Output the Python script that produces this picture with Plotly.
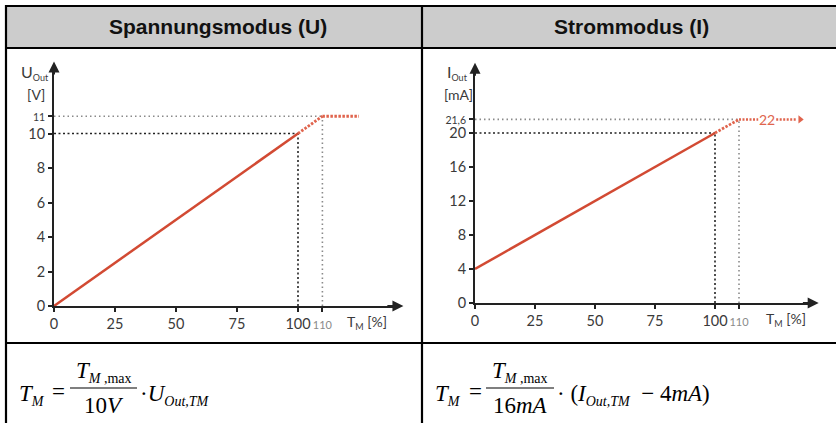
import plotly.graph_objects as go

W, H = 836, 423

# ---------------- data ----------------
tm_ticks = [0, 25, 50, 75, 100, 110]
tm_labels = ["0", "25", "50", "75", "100", "110"]

u_ticks = [0, 2, 4, 6, 8, 10, 11]
u_labels = ["0", "2", "4", "6", "8", "10", "11"]

i_ticks = [0, 4, 8, 12, 16, 20, 21.6]
i_labels = ["0", "4", "8", "12", "16", "20", "21,6"]

u_line_x = [0, 100]
u_line_y = [0, 10]
u_over_x = [100, 110]
u_over_y = [10, 11]
u_sat_x = [110, 125]
u_sat_y = [11, 11]

i_line_x = [0, 100]
i_line_y = [4, 20]
i_over_x = [100, 110]
i_over_y = [20, 21.6]
i_sat_x1 = [110, 118]
i_sat_x2 = [125.5, 134]
i_sat_y = [21.6, 21.6]
i_sat_label = "22"
i_sat_label_x = 121.7
i_arrow_x = 135.5

headers = ["Spannungsmodus (U)", "Strommodus (I)"]

# ---------------- helpers ----------------
def P(x):
    return x / W

def Q(y):
    return 1 - y / H

RED = "#d24a33"
RED_L = "#e0644d"
DARK = "#222222"
GRAY = "#8a8a8a"
TICK_FONT = dict(family="Lato, sans-serif", size=14.5, color="#3a3a3a")
SERIF = "Liberation Serif, Times New Roman, serif"


def fmt_ticks(labels, small):
    out = []
    for lab in labels:
        if lab in small:
            out.append(f'<span style="{small[lab]}">{lab}</span>')
        else:
            out.append(lab)
    return out


fig = go.Figure()

# panel geometry (pixel origin, px per unit, range end)
L = dict(ox=54, oy=306, sx=2.44, sy=17.25, xr=140, yr=13.8)
R = dict(ox=475, oy=303, sx=2.4, sy=8.5, xr=140, yr=27.5)


def dom(g):
    xd = [P(g["ox"]), P(g["ox"] + g["xr"] * g["sx"])]
    yd = [Q(g["oy"]), Q(g["oy"] - g["yr"] * g["sy"])]
    return xd, yd


def ref_line(x, y, color, xa, ya, dash):
    fig.add_trace(go.Scatter(x=x, y=y, mode="lines", xaxis=xa, yaxis=ya,
                             line=dict(color=color, width=1.6, dash=dash),
                             hoverinfo="skip", showlegend=False))


# ---- left panel traces ----
ref_line([0, u_line_x[1]], [u_line_y[1]] * 2, DARK, "x", "y", "2px,2.5px")
ref_line([u_line_x[1]] * 2, [0, u_line_y[1]], DARK, "x", "y", "2px,2.5px")
ref_line([0, u_over_x[1]], [u_over_y[1]] * 2, GRAY, "x", "y", "1.5px,3px")
ref_line([u_over_x[1]] * 2, [0, u_over_y[1]], GRAY, "x", "y", "1.5px,3px")
fig.add_trace(go.Scatter(x=u_line_x, y=u_line_y, mode="lines", xaxis="x", yaxis="y",
                         line=dict(color=RED, width=2.5), showlegend=False))
fig.add_trace(go.Scatter(x=u_over_x, y=u_over_y, mode="lines", xaxis="x", yaxis="y",
                         line=dict(color=RED_L, width=2.8, dash="2.5px,1.5px"), showlegend=False))
fig.add_trace(go.Scatter(x=u_sat_x, y=u_sat_y, mode="lines", xaxis="x", yaxis="y",
                         line=dict(color=RED_L, width=3, dash="2.5px,1.5px"), showlegend=False))

# ---- right panel traces ----
ref_line([0, i_line_x[1]], [i_line_y[1]] * 2, DARK, "x2", "y2", "2px,2.5px")
ref_line([i_line_x[1]] * 2, [0, i_line_y[1]], DARK, "x2", "y2", "2px,2.5px")
ref_line([0, i_over_x[1]], [i_over_y[1]] * 2, GRAY, "x2", "y2", "1.5px,3px")
ref_line([i_over_x[1]] * 2, [0, i_over_y[1]], GRAY, "x2", "y2", "1.5px,3px")
fig.add_trace(go.Scatter(x=i_line_x, y=i_line_y, mode="lines", xaxis="x2", yaxis="y2",
                         line=dict(color=RED, width=2.5), showlegend=False))
fig.add_trace(go.Scatter(x=i_over_x, y=i_over_y, mode="lines", xaxis="x2", yaxis="y2",
                         line=dict(color=RED_L, width=2.8, dash="2.5px,1.5px"), showlegend=False))
fig.add_trace(go.Scatter(x=i_sat_x1, y=i_sat_y, mode="lines", xaxis="x2", yaxis="y2",
                         line=dict(color=RED_L, width=2.5, dash="2px,1.5px"), showlegend=False))
fig.add_trace(go.Scatter(x=i_sat_x2, y=i_sat_y, mode="lines", xaxis="x2", yaxis="y2",
                         line=dict(color=RED_L, width=2.5, dash="2px,1.5px"), showlegend=False))
fig.add_trace(go.Scatter(x=[i_arrow_x], y=[i_sat_y[0]], mode="markers", xaxis="x2", yaxis="y2",
                         marker=dict(symbol="triangle-right", size=7, color=RED_L),
                         cliponaxis=False, showlegend=False))

# ---- axes ----
axis_common = dict(showline=True, linecolor=DARK, linewidth=2, ticks="outside", ticklen=4,
                   tickwidth=1.5, tickcolor=DARK, showgrid=False, zeroline=False,
                   tickfont=TICK_FONT, fixedrange=True, automargin=False, tickangle=0)

xdL, ydL = dom(L)
xdR, ydR = dom(R)

small_x = {"110": "font-size:11px;fill:#8a8a8a"}
fig.update_layout(
    xaxis=dict(axis_common, domain=xdL, range=[0, L["xr"]], anchor="y",
               tickvals=tm_ticks, ticktext=fmt_ticks(tm_labels, small_x)),
    yaxis=dict(axis_common, domain=ydL, range=[0, L["yr"]], anchor="x",
               tickvals=u_ticks, ticktext=fmt_ticks(u_labels, {"11": "font-size:10.5px"})),
    xaxis2=dict(axis_common, domain=xdR, range=[0, R["xr"]], anchor="y2",
                tickvals=tm_ticks, ticktext=fmt_ticks(tm_labels, small_x)),
    yaxis2=dict(axis_common, domain=ydR, range=[0, R["yr"]], anchor="x2",
                tickvals=i_ticks, ticktext=fmt_ticks(i_labels, {"21,6": "font-size:10.5px"})),
)

ann = []
shapes = []


def txt(xpx, ypx, text, font, xanchor="center"):
    ann.append(dict(x=P(xpx), y=Q(ypx), xref="paper", yref="paper", showarrow=False,
                    xanchor=xanchor, yanchor="middle", text=text, font=font))


# axis arrows
for xa, ya, g in (("x", "y", L), ("x2", "y2", R)):
    ann.append(dict(x=g["xr"] + 3.2, y=0, ax=g["xr"] - 4, ay=0, xref=xa, yref=ya,
                    axref=xa, ayref=ya, showarrow=True, arrowhead=2, arrowsize=1.1,
                    arrowwidth=2, arrowcolor=DARK, text=""))
    ann.append(dict(x=0, y=g["yr"] + 6.5 / g["sy"], ax=0, ay=g["yr"] - 8.0 / g["sy"],
                    xref=xa, yref=ya, axref=xa, ayref=ya, showarrow=True, arrowhead=2,
                    arrowsize=1.1, arrowwidth=2, arrowcolor=DARK, text=""))

# axis titles
AX_FONT = dict(family="Lato, sans-serif", size=14, color="#3a3a3a")
txt(35, 72, 'U<sub><span style="font-size:9px">Out</span></sub>', dict(AX_FONT, size=16))
txt(36, 94, "[V]", AX_FONT)
txt(457, 72, 'I<sub><span style="font-size:9px">Out</span></sub>', dict(AX_FONT, size=16))
txt(458, 94, "[mA]", AX_FONT)
txt(345, 322, 'T<sub><span style="font-size:9px">M</span></sub> [%]', AX_FONT, "left")
txt(764, 319, 'T<sub><span style="font-size:9px">M</span></sub> [%]', AX_FONT, "left")

# saturation label
ann.append(dict(x=i_sat_label_x, y=i_sat_y[0], xref="x2", yref="y2", showarrow=False,
                xanchor="center", yanchor="middle",
                text=i_sat_label, font=dict(family="Lato, sans-serif", size=14, color=RED_L)))

# ---- table ----
HEAD_BG = "#cccccc"
shapes.append(dict(type="rect", xref="paper", yref="paper", x0=P(6), x1=P(840), y0=Q(48), y1=Q(6),
                   fillcolor=HEAD_BG, line=dict(width=0), layer="below"))
for (x0, y0, x1, y1) in [(5, 6, 840, 6), (5, 48, 840, 48), (5, 343, 840, 343),
                         (6, 5, 6, 425), (422, 5, 422, 425)]:
    shapes.append(dict(type="line", xref="paper", yref="paper", x0=P(x0), y0=Q(y0), x1=P(x1), y1=Q(y1),
                       line=dict(color="#000000", width=2.2)))

for t, cx in zip(headers, (218, 631)):
    txt(cx, 27, f"<b>{t}</b>", dict(family="Liberation Sans, Arial, sans-serif", size=21, color="#111111"))

# ---- formulas ----
FF = dict(family=SERIF, size=23, color="#000000")
SUBF = 'font-size:14px'


def formula(x0, denom, tail, bar_w):
    txt(x0 - 1, 395, f'<i>T</i><sub><span style="{SUBF}"><i>M</i></span></sub>', FF, "left")
    txt(x0 + 41, 391, "=", FF)
    bx0 = x0 + 52
    cx = bx0 + bar_w / 2
    txt(cx, 372, f'<i>T</i><sub><span style="{SUBF}"><i>M</i> ,max</span></sub>', FF)
    shapes.append(dict(type="line", xref="paper", yref="paper", x0=P(bx0), x1=P(bx0 + bar_w),
                       y0=Q(388), y1=Q(388), line=dict(color="#000", width=1.2)))
    txt(cx, 405, denom, FF)
    txt(bx0 + bar_w + 1, 395, tail, FF, "left")


formula(18, "10<i>V</i>",
        f'·<i>U</i><sub><span style="{SUBF}"><i>Out,TM</i></span></sub>', 67)
formula(434, "16<i>mA</i>",
        f'· (<i>I</i><sub><span style="{SUBF}"><i>Out,TM</i></span></sub>  − 4<i>mA</i>)', 68)

fig.update_layout(width=W, height=H, margin=dict(l=0, r=0, t=0, b=0),
                  paper_bgcolor="white", plot_bgcolor="white",
                  annotations=ann, shapes=shapes, showlegend=False)

fig.write_html("out.html", config={"displayModeBar": False},
               post_script="document.body.style.margin='0px';document.body.style.overflow='hidden';")
